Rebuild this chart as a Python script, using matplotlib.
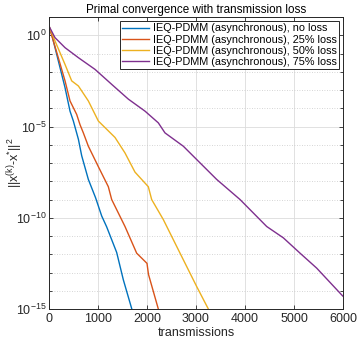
import numpy as np
import matplotlib
matplotlib.use("Agg")
import matplotlib.pyplot as plt
from matplotlib.ticker import FixedLocator, FuncFormatter

plt.rcParams['font.family'] = ['Liberation Sans', 'DejaVu Sans']
plt.rcParams['mathtext.fontset'] = 'custom'
plt.rcParams['mathtext.rm'] = 'Liberation Sans'

labels = ["IEQ-PDMM (asynchronous), no loss",
          "IEQ-PDMM (asynchronous), 25% loss",
          "IEQ-PDMM (asynchronous), 50% loss",
          "IEQ-PDMM (asynchronous), 75% loss"]
colors = ["#0072BD", "#D95319", "#EDB120", "#7E2F8E"]

# transmissions and log10 of the error
x_noloss = [0, 55, 190, 327, 429, 497, 600, 667, 803, 950, 1075, 1177, 1381, 1517, 1690, 1720]
y_noloss = [0.5, 0.05, -1.4, -2.87, -4.16, -4.7, -5.7, -6.6, -7.9, -8.9, -9.9, -10.5, -11.9, -13.4, -15.0, -15.3]

x_25 = [0, 88, 190, 327, 429, 565, 633, 701, 803, 1007, 1211, 1279, 1415, 1551, 1789, 2000, 2030, 2231, 2260]
y_25 = [0.5, -0.31, -1.23, -2.5, -3.6, -4.34, -4.9, -5.35, -6.08, -7.2, -8.3, -9.0, -9.74, -10.48, -11.94, -12.5, -13.1, -15.0, -15.3]

x_50 = [0, 122, 327, 463, 600, 803, 1007, 1347, 1551, 1755, 2027, 2095, 2333, 2674, 3014, 3252, 3280]
y_50 = [0.5, -0.31, -1.6, -2.5, -2.78, -3.6, -4.7, -5.6, -6.45, -7.5, -8.3, -9.0, -10.1, -11.94, -13.77, -15.0, -15.3]

x_75 = [0, 122, 327, 600, 939, 1279, 1619, 1960, 2231, 2367, 2741, 3014, 3422, 3898, 4443, 4782, 5123, 5463, 5974, 6000]
y_75 = [0.5, -0.13, -0.68, -1.23, -1.87, -2.69, -3.5, -4.16, -4.8, -5.35, -6.08, -6.81, -7.9, -9.0, -10.48, -11.1, -11.94, -12.76, -14.23, -14.3]

series = [(x_noloss, y_noloss), (x_25, y_25), (x_50, y_50), (x_75, y_75)]

fig = plt.figure(figsize=(3.57, 3.42), dpi=100)
ax = fig.add_axes([49/357, 1-309/342, (343-49)/357, (309-17)/342])

for (xs, ys), c, lab in zip(series, colors, labels):
    ax.semilogy(xs, 10.0**np.array(ys), color=c, lw=1.0, label=lab)

ax.set_xlim(0, 6000)
ax.set_ylim(1e-15, 1e1)
ax.set_xticks([0, 1000, 2000, 3000, 4000, 5000, 6000])
ax.yaxis.set_major_locator(FixedLocator([1e-15, 1e-10, 1e-5, 1e0]))
ax.yaxis.set_minor_locator(FixedLocator([10.0**k for k in range(-15, 2) if k % 5 != 0]))
ax.yaxis.set_major_formatter(FuncFormatter(lambda v, p: r'$\mathregular{10^{%d}}$' % int(round(np.log10(v)))))
ax.yaxis.set_minor_formatter(FuncFormatter(lambda v, p: ''))

tc = '#262626'
ax.tick_params(which='both', direction='in', top=True, right=True, colors=tc, labelsize=9, length=3, width=0.6)
ax.tick_params(which='minor', length=2)
ax.tick_params(axis='x', pad=3)
ax.tick_params(axis='y', pad=2)
for s in ax.spines.values():
    s.set_color(tc)
    s.set_linewidth(0.7)

ax.grid(True, which='major', color='#dcdcdc', lw=0.6, ls='-')
ax.grid(True, which='minor', axis='y', color='#c8c8c8', lw=0.6, ls=(0, (1, 2)))
ax.set_axisbelow(True)

ax.set_title("Primal convergence with transmission loss", fontsize=8.4, color='black', pad=3)
ax.set_xlabel("transmissions", fontsize=9, color=tc, labelpad=1)
ax.set_ylabel(r'$\mathregular{||x^{(k)}\text{-}x^{*}||^{2}}$', fontsize=9, color=tc)
ax.yaxis.set_label_coords(-0.08, 0.5)

leg = ax.legend(loc='upper right', fontsize=7.8, frameon=True, fancybox=False,
                edgecolor=tc, framealpha=1, borderpad=0.2, labelspacing=0.1,
                handlelength=2.5, handletextpad=0.3, borderaxespad=0.4)
leg.get_frame().set_linewidth(0.7)

fig.savefig("out.png", dpi=100)
